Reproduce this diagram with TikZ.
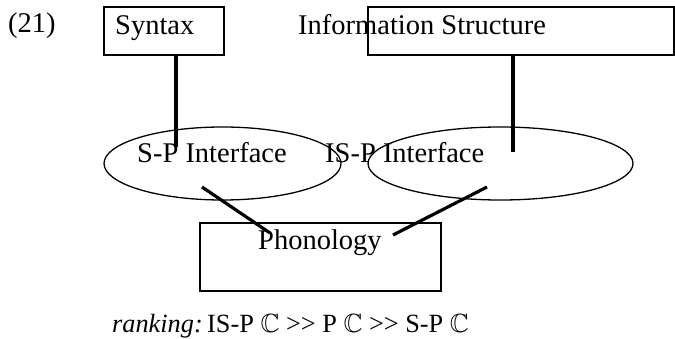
\documentclass[tikz,border=0pt]{standalone}
\usepackage{amssymb}
\usepackage{fontspec}
\setmainfont{Liberation Serif}
\usetikzlibrary{shapes.geometric}
\begin{document}
\begin{tikzpicture}[x=1pt,y=-1pt,
        box/.style={draw,line width=1.5pt,inner sep=0pt},
        oval/.style={draw,ellipse,line width=1.3pt,inner sep=0pt},
        word/.style={inner sep=0pt,anchor=base west,font=\fontsize{28.5}{32}\selectfont},
        link/.style={line width=3.2pt}]
                \useasboundingbox (0,0) rectangle (675,339);
                % modules
                \node[box,minimum width=120pt,minimum height=48pt] (syn) at (164,31) {};
                \node[box,minimum width=306pt,minimum height=48pt] (info) at (521,31) {};
                \node[oval,minimum width=237pt,minimum height=73pt] (spi) at (222.5,163.5) {};
                \node[oval,minimum width=265pt,minimum height=73pt] (ispi) at (500.5,163.5) {};
                \node[box,minimum width=241pt,minimum height=68pt] (phon) at (320.5,257) {};
                % texts
                \node[word] (num) at (8,33) {(21)};
                \node[word] (synlbl) at (115,35) {Syntax};
                \node[word] (infolbl) at (298,35) {Information Structure};
                \node[word] (spilbl) at (137,163) {S-P Interface};
                \node[word] (ispilbl) at (325,163) {IS-P Interface};
                \node[word] (phonlbl) at (258,250) {Phonology};
                \node[word,font=\fontsize{26.3}{29}\selectfont] (rank) at (112,332)
                    {\textit{ranking:}\,IS-P $\mathbb{C}$ {>}{>} P $\mathbb{C}$ {>}{>} S-P $\mathbb{C}$};
                % links
                \coordinate (spitop) at (176,147);
                \coordinate (ispitop) at (513,152);
                \coordinate (spilow) at (202,187);
                \coordinate (ispilow) at (487,187);
                \coordinate (phonleft) at (270,233);
                \coordinate (phonright) at (393,235);
                \draw[link] (syn.south -| spitop) -- (spitop);
                \draw[link] (info.south -| ispitop) -- (ispitop);
                \draw[link] (spilow) -- (phonleft);
                \draw[link] (ispilow) -- (phonright);
\end{tikzpicture}
\end{document}
